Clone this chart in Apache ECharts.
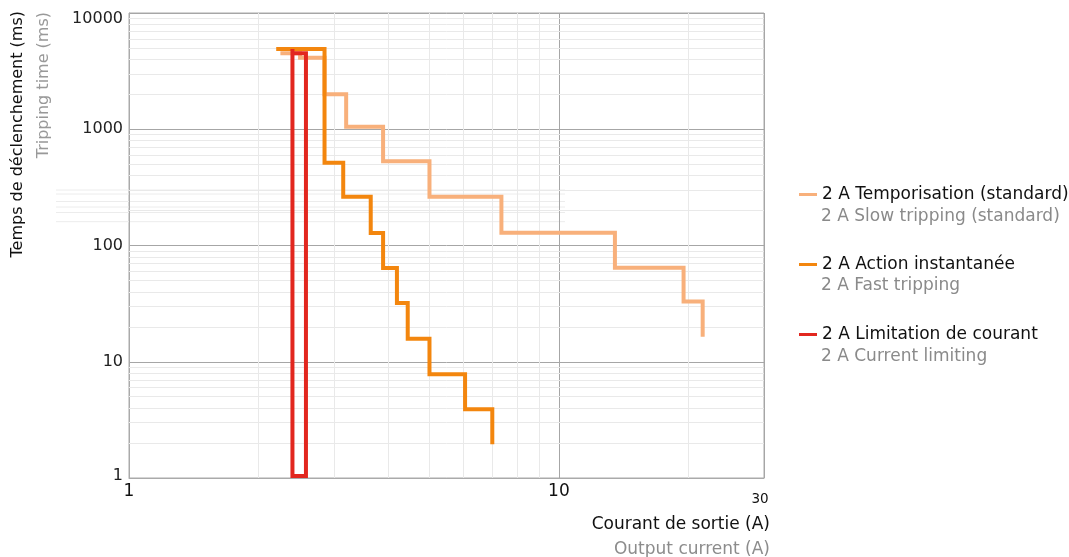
<!DOCTYPE html>
<html><head><meta charset="utf-8">
<script src="https://cdn.jsdelivr.net/npm/echarts@6/dist/echarts.min.js"></script>
<style>html,body{margin:0;padding:0;background:#fff}#c{width:1069px;height:557px}</style>
</head><body><div id="c"></div>
<script>
// ---- data ----
const seriesNames = ['2 A Temporisation (standard)', '2 A Action instantanée', '2 A Limitation de courant'];
const seriesNamesEn = ['2 A Slow tripping (standard)', '2 A Fast tripping', '2 A Current limiting'];
const seriesColors = ['#F8B07B', '#F3860E', '#E2271F'];

// Slow tripping (current A, time ms)
const slowCurrent = [2.25, 2.5, 2.5, 2.85, 2.85, 3.2, 3.2, 3.9, 3.9, 5.0, 5.0, 7.35, 7.35, 13.5, 13.5, 19.5, 19.5, 21.6, 21.6];
const slowTime    = [4500, 4500, 4130, 4130, 2000, 2000, 1050, 1050, 530, 530, 263, 263, 129, 129, 64.5, 64.5, 33, 33, 16.4];
// Fast tripping
const fastCurrent = [2.2, 2.85, 2.85, 3.15, 3.15, 3.65, 3.65, 3.9, 3.9, 4.2, 4.2, 4.45, 4.45, 5.0, 5.0, 6.05, 6.05, 7.0, 7.0];
const fastTime    = [4900, 4900, 515, 515, 263, 263, 128, 128, 64, 64, 32, 32, 15.8, 15.8, 7.8, 7.8, 3.9, 3.9, 1.95];
// Current limiting
const limCurrent = [2.4, 2.4, 2.58, 2.58, 2.4];
const limTime    = [4900, 1.04, 1.04, 4500, 4500];

const xMinorTicks = [2, 3, 4, 5, 6, 7, 8, 9, 20];
const yMinorTicks = [2, 3, 4, 5, 6, 7, 8, 9, 20, 30, 40, 50, 60, 70, 80, 90, 200, 300, 400, 500, 600, 700, 800, 900, 2000, 3000, 4000, 5000, 6000, 7000, 8000, 9000];

const yTitle = 'Temps de déclenchement (ms)';
const yTitleEn = 'Tripping time (ms)';
const xTitle = 'Courant de sortie (A)';
const xTitleEn = 'Output current (A)';

// ---- chart ----
const zip = (a, b) => a.map((v, i) => [v, b[i]]);
const FONT = '"DejaVu Sans", sans-serif';

const lineSeries = [
  [slowCurrent, slowTime],
  [fastCurrent, fastTime],
  [limCurrent, limTime]
].map((d, i) => ({
  type: 'line',
  name: seriesNames[i],
  data: zip(d[0], d[1]),
  symbol: 'none',
  showSymbol: false,
  animation: false,
  z: 3 + i,
  lineStyle: { width: 4, color: seriesColors[i], join: 'miter', cap: 'butt' },
  itemStyle: { color: seriesColors[i] },
  emphasis: { disabled: true }
}));

const gridSeries = {
  type: 'line',
  name: 'minor-grid',
  data: [],
  silent: true,
  z: 1,
  markLine: {
    silent: true,
    animation: false,
    z: 1,
    symbol: ['none', 'none'],
    label: { show: false },
    emphasis: { disabled: true },
    lineStyle: { color: '#e9e9e9', type: 'solid', width: 1 },
    data: xMinorTicks.map(v => ({ xAxis: v })).concat(yMinorTicks.map(v => ({ yAxis: v })))
  }
};

// faint stray rule lines visible in the original image
const strayRules = [190, 194, 201.5, 207, 212.5, 221.7].map(y => ({
  type: 'line', silent: true, z: 0,
  shape: { x1: 56, y1: y, x2: 565, y2: y },
  style: { stroke: '#ececec', lineWidth: 1 }
}));

const chart = echarts.init(document.getElementById('c'), null, { renderer: 'canvas' });
chart.setOption({
  animation: false,
  backgroundColor: '#fff',
  grid: { left: 129, top: 13, right: 305, bottom: 79, show: true, borderColor: '#aaa', borderWidth: 1, backgroundColor: 'transparent' },
  xAxis: {
    type: 'log', logBase: 10, min: 1, max: 30,
    axisLine: { show: true, lineStyle: { color: '#aaa' } },
    axisTick: { show: false },
    splitLine: { show: true, lineStyle: { color: '#a6a6a6' } },
    axisLabel: {
      fontFamily: FONT, fontSize: 17, color: '#111', margin: 5,
      formatter: v => { const r = Math.round(v); return r === 30 ? '{s|30}' : String(r); },
      rich: { s: { fontSize: 13.5, fontFamily: FONT, color: '#111', padding: [9, 8, 0, 0] } }
    }
  },
  yAxis: {
    type: 'log', logBase: 10, min: 1, max: 10000,
    axisLine: { show: true, lineStyle: { color: '#aaa' } },
    axisTick: { show: false },
    splitLine: { show: true, lineStyle: { color: '#a6a6a6' } },
    axisLabel: {
      fontFamily: FONT, fontSize: 16, color: '#222', margin: 6,
      formatter: v => { const r = Math.round(v); return r === 10000 ? '{t|10000}' : (r === 1 ? '{b|1}' : String(r)); },
      rich: {
        t: { fontFamily: FONT, fontSize: 16, color: '#222', padding: [12, 0, 0, 0] },
        b: { fontFamily: FONT, fontSize: 16, color: '#222', padding: [0, 0, 5, 0] }
      }
    }
  },
  legend: {
    orient: 'vertical', left: 794, top: 181,
    itemWidth: 18, itemHeight: 3, itemGap: 53,
    icon: 'rect', selectedMode: false,
    textStyle: { fontFamily: FONT, fontSize: 17, color: '#111' },
    data: seriesNames
  },
  graphic: strayRules.concat([
    { type: 'text', x: 18, y: 11, rotation: Math.PI / 2, silent: true,
      style: { text: yTitle, fontFamily: 'DejaVu Sans', fontSize: 16, fill: '#111', align: 'right', verticalAlign: 'middle' } },
    { type: 'text', x: 44, y: 12, rotation: Math.PI / 2, silent: true,
      style: { text: yTitleEn, fontFamily: 'DejaVu Sans', fontSize: 16, fill: '#999', align: 'right', verticalAlign: 'middle' } },
    { type: 'text', x: 770, y: 525, silent: true,
      style: { text: xTitle, fontFamily: 'DejaVu Sans', fontSize: 17, fill: '#111', align: 'right', verticalAlign: 'middle' } },
    { type: 'text', x: 770, y: 550, silent: true,
      style: { text: xTitleEn, fontFamily: 'DejaVu Sans', fontSize: 17, fill: '#8c8c8c', align: 'right', verticalAlign: 'middle' } }
  ]).concat(seriesNamesEn.map((t, i) => ({
    type: 'text', x: 821, y: [216.5, 286, 356.5][i], silent: true,
    style: { text: t, fontFamily: 'DejaVu Sans', fontSize: 17, fill: '#8a8a8a', align: 'left', verticalAlign: 'middle' }
  }))),
  series: [gridSeries].concat(lineSeries)
});
</script>
</body></html>
